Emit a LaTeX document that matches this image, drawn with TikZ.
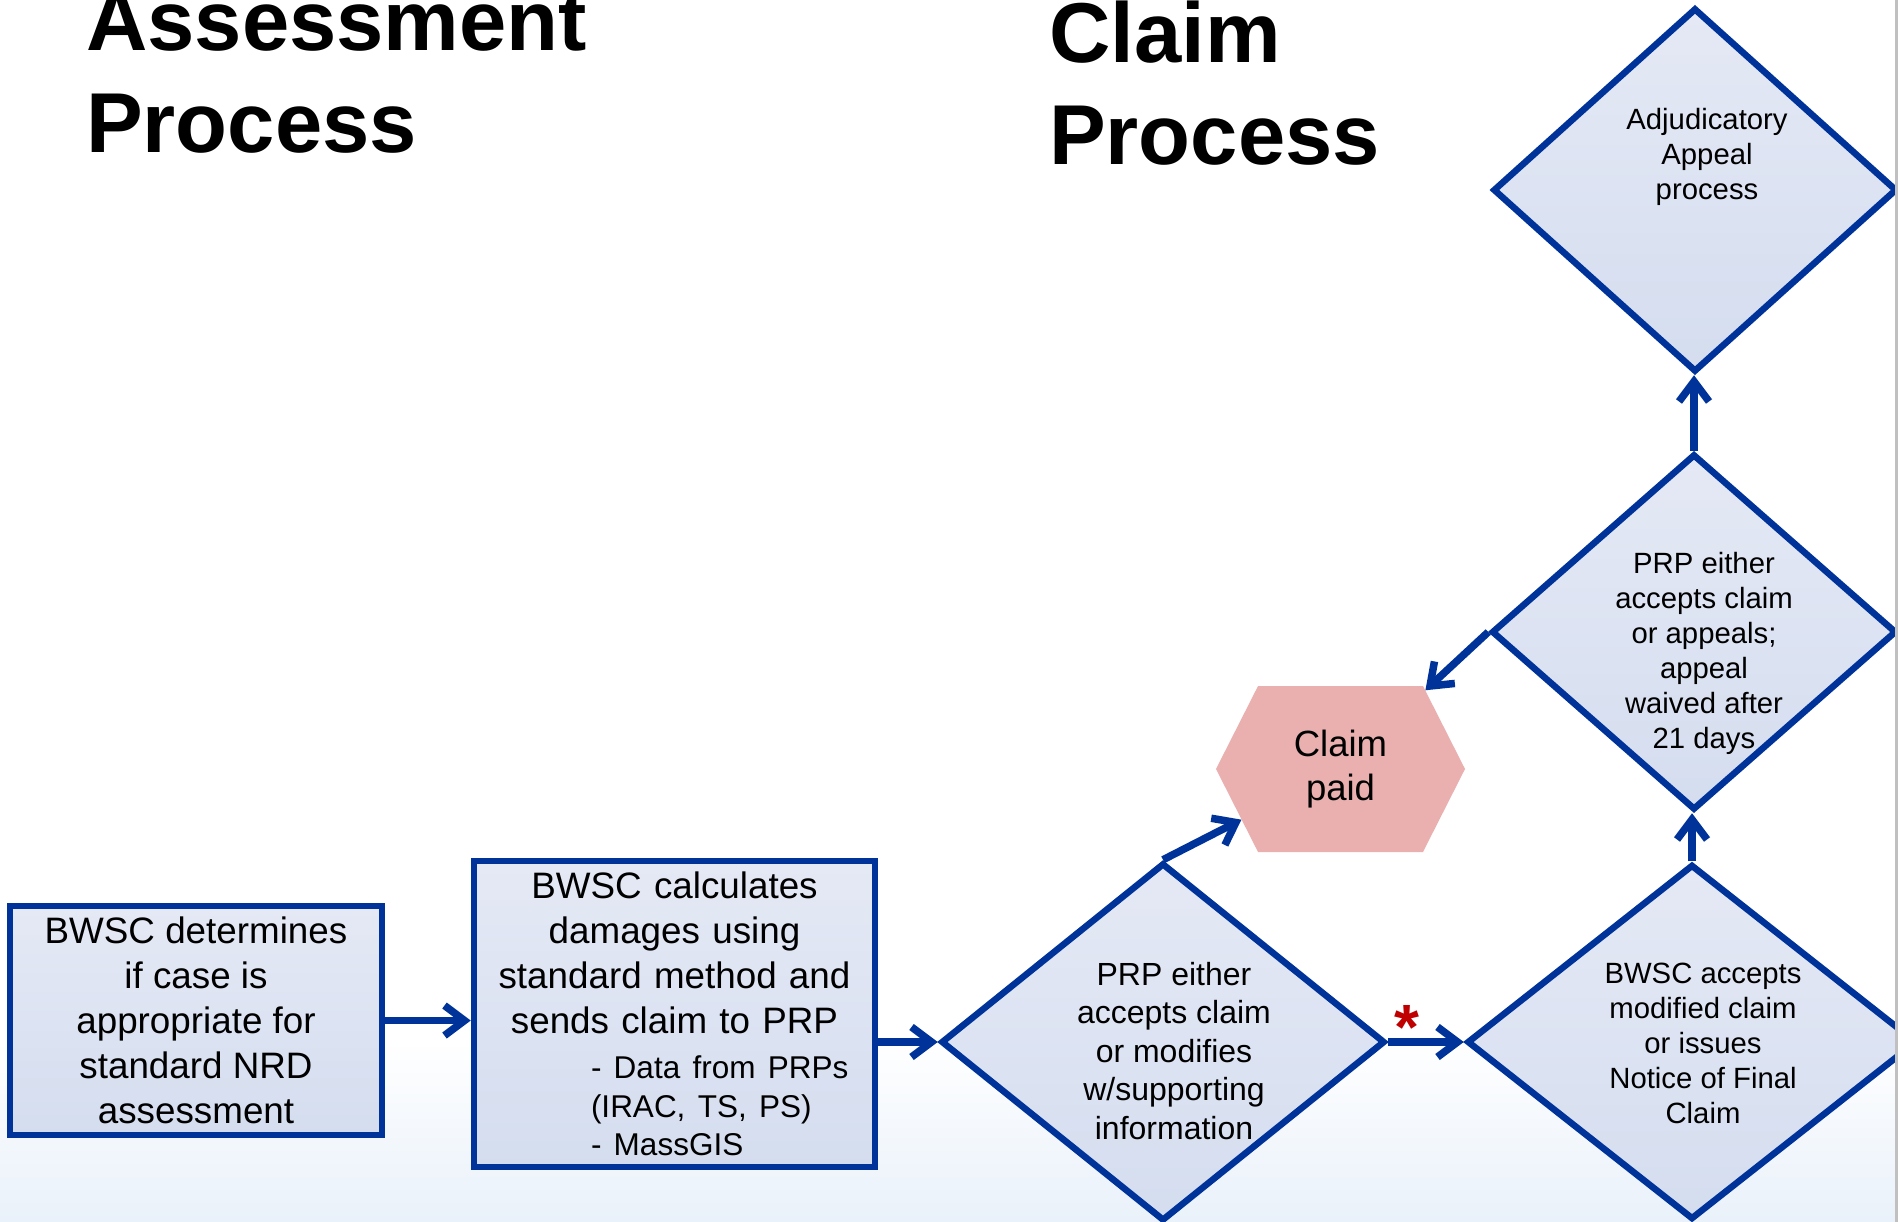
\documentclass[tikz,border=0pt]{standalone}
\usepackage{fontspec}
\setmainfont{Liberation Sans}
\usetikzlibrary{shapes.geometric,shapes.symbols,arrows.meta,calc}
\definecolor{bordblue}{RGB}{0,51,153}
\definecolor{filltop}{RGB}{229,233,245}
\definecolor{fillbot}{RGB}{212,221,239}
\definecolor{hexpink}{RGB}{234,176,176}
\definecolor{starred}{RGB}{192,0,0}
\definecolor{bgbot}{RGB}{233,241,250}
\definecolor{edgegray}{RGB}{192,192,192}
\tikzset{
  titletext/.style={anchor=west, align=left, inner sep=0pt, font=\fontsize{85}{102}\selectfont\bfseries},
  boxnode/.style={rectangle, draw=bordblue, line width=6.5pt, top color=filltop, bottom color=fillbot, inner sep=0pt, font=\fontsize{36.8}{45}\selectfont},
  decnode/.style={diamond, draw=bordblue, line width=6.5pt, top color=filltop, bottom color=fillbot, inner sep=0pt},
  dectext/.style={align=center, inner sep=0pt, font=\fontsize{29.3}{35}\selectfont},
  hexnode/.style={signal, signal to=east and west, signal pointer angle=126.3, fill=hexpink, draw=none, inner sep=0pt, align=center, font=\fontsize{36.5}{44}\selectfont},
  conn/.style={draw=bordblue, line width=7.5pt, -{Straight Barb[length=20pt,width=30pt]}}
}
\begin{document}
\begin{tikzpicture}[x=1pt,y=-1pt]
\useasboundingbox (0,0) rectangle (1898,1222);
\clip (0,0) rectangle (1898,1222);
\fill[white] (0,0) rectangle (1898,1222);
\shade[top color=white, bottom color=bgbot] (0,1040) rectangle (1898,1222.5);

% titles
\node[titletext] (t1) at (86,73) {Assessment\\Process};
\node[titletext] (t2) at (1049,83.5) {Claim\\Process};

% boxes
\node[boxnode, minimum width=372pt, minimum height=229pt, align=center] (box1) at (196,1020.5)
  {BWSC determines\\if case is\\appropriate for\\standard NRD\\assessment};
\node[boxnode, minimum width=401pt, minimum height=306pt, text width=401pt, align=center] (box2) at (674.5,1014)
  {BWSC calculates\\damages using\\standard method and\\sends claim to PRP\par\vspace{6.5pt}%
   {\fontsize{31.5}{38.5}\selectfont\leftskip=117pt\rightskip=0pt plus 1fil\parfillskip=0pt plus 1fil
   - Data from PRPs\\(IRAC, TS, PS)\\- MassGIS\par}};

% decisions
\node[decnode, minimum width=444pt, minimum height=358pt] (d1) at (1163,1042) {};
\node[decnode, minimum width=450pt, minimum height=355pt] (d2) at (1692,1042) {};
\node[decnode, minimum width=405pt, minimum height=356pt] (d3) at (1694,632) {};
\node[decnode, minimum width=404pt, minimum height=364pt] (d4) at (1695,190) {};

\node[dectext, font=\fontsize{32}{38.5}\selectfont] (d1t) at (1174,1051)
  {PRP either\\accepts claim\\or modifies\\w/supporting\\information};
\node[dectext] (d2t) at (1703,1043)
  {BWSC accepts\\modified claim\\or issues\\Notice of Final\\Claim};
\node[dectext] (d3t) at (1704,653)
  {PRP either\\accepts claim\\or appeals;\\appeal\\waived after\\21 days};
\node[dectext] (d4t) at (1707,157)
  {Adjudicatory\\Appeal\\process};

% claim paid
\node[hexnode, minimum width=249pt, minimum height=166pt] (hex) at (1340.5,769) {Claim\\paid};

% connectors
\draw[conn] (box1.east) -- (box1.east -| box2.west);
\draw[conn] (box2.east |- d1.west) -- (d1.west);
\draw[conn] (d1.north) -- (hex);
\draw[conn] (d1.east) -- (d2.west);
\draw[conn] (d2.north) -- (d2.north |- d3.south);
\draw[conn] (d3.west) -- (hex);
\draw[conn] (d3.north) -- (d3.north |- d4.south);

\node[text=starred, anchor=base, inner sep=0pt, font=\fontsize{64}{64}\selectfont\bfseries] (star) at (1407,1049) {*};

\fill[edgegray] (1895,0) rectangle (1898,1222);
\end{tikzpicture}
\end{document}
